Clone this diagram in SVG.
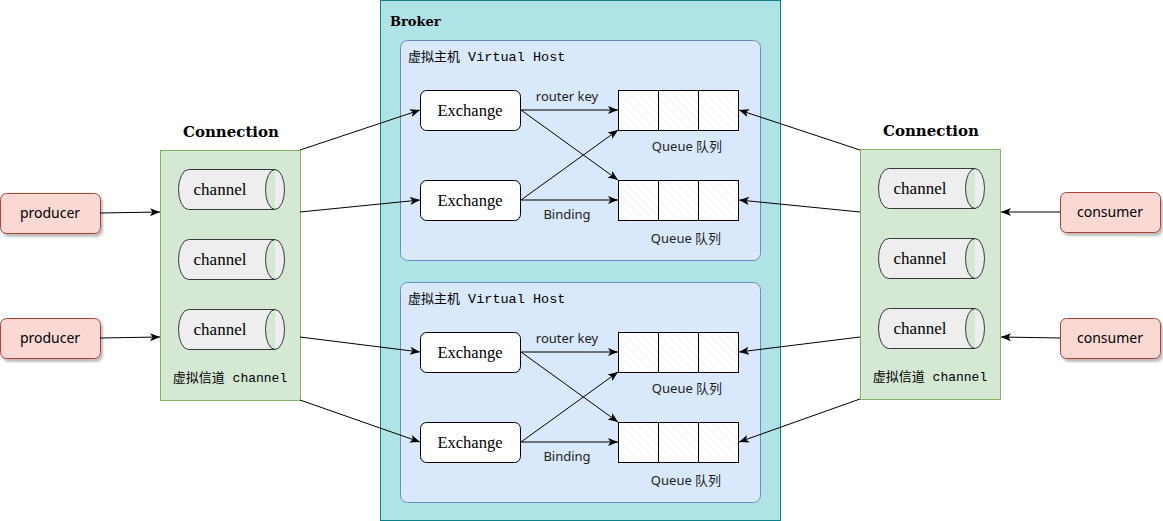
<svg xmlns="http://www.w3.org/2000/svg" width="1163" height="521" viewBox="0 0 1163 521">
<style>
.broker{fill:#b0e3e6;stroke:#0e8088;stroke-width:1}
.vh{fill:#dae8fc;stroke:#6c8ebf;stroke-width:1}
.conn{fill:#d5e8d4;stroke:#82b366;stroke-width:1}
.ex{fill:#ffffff;stroke:#000;stroke-width:1}
.cell{fill:url(#hatch);stroke:#000;stroke-width:1}
.cyl{fill:#eeeeee;stroke:#36393d;stroke-width:1}
.pc{fill:#fad9d5;stroke:#ae4132;stroke-width:1}
.edge{fill:none;stroke:#000;stroke-width:1;marker-end:url(#arr)}
.serif{font-family:"Liberation Serif","DejaVu Serif",serif;fill:#000}
.title{font-family:"DejaVu Serif","Liberation Serif",serif;font-weight:bold;font-size:13px;fill:#000}
.hand{font-family:"Noto Sans","Noto Sans CJK SC",sans-serif;font-size:13px;fill:#222}
.mono{font-family:"Liberation Mono","Noto Sans CJK SC",monospace;font-size:13.5px;fill:#000}
.cjk{font-family:"Noto Sans CJK SC",sans-serif;font-size:13px;fill:#000}
.pt{font-family:"Noto Sans","DejaVu Sans",sans-serif;font-size:14px;fill:#000}
</style>
<defs>
<pattern id="hatch" patternUnits="userSpaceOnUse" width="6" height="6" patternTransform="rotate(-45)">
<rect width="6" height="6" fill="#ffffff"/>
<line x1="0" y1="0" x2="0" y2="6" stroke="#e8e8e8" stroke-width="1"/>
</pattern>
<marker id="arr" viewBox="0 0 10 10" refX="10" refY="5" markerWidth="10" markerHeight="10" markerUnits="userSpaceOnUse" orient="auto">
<path d="M0,1 L10,5 L0,9 L2.5,5 Z" fill="#000"/>
</marker>
<filter id="sh" x="-10%" y="-10%" width="130%" height="140%">
<feDropShadow dx="2" dy="3" stdDeviation="1" flood-color="#000" flood-opacity="0.25"/>
</filter>
</defs>

<g id="broker">
<rect class="broker" x="380.5" y="0.5" width="400" height="520"/>
<text class="title" x="390" y="26">Broker</text>
</g>

<g id="vhost1">
<rect class="vh" x="400.5" y="40.5" width="360" height="220" rx="7"/>
<text x="408" y="61"><tspan class="cjk">虚拟主机</tspan><tspan class="mono"> Virtual Host</tspan></text>
</g>
<g id="vhost2">
<rect class="vh" x="400.5" y="282.5" width="360" height="220" rx="7"/>
<text x="408" y="303"><tspan class="cjk">虚拟主机</tspan><tspan class="mono"> Virtual Host</tspan></text>
</g>

<g id="conn-left">
<rect class="conn" x="160.5" y="150.5" width="140" height="250"/>
<text class="title" x="231" y="137" text-anchor="middle" style="font-size:15px">Connection</text>
<text x="230" y="382" text-anchor="middle"><tspan class="cjk">虚拟信道</tspan><tspan class="mono" style="font-size:13px"> channel</tspan></text>
</g>
<g id="conn-right">
<rect class="conn" x="860.5" y="149.5" width="140" height="250"/>
<text class="title" x="931" y="136" text-anchor="middle" style="font-size:15px">Connection</text>
<text x="930" y="381" text-anchor="middle"><tspan class="cjk">虚拟信道</tspan><tspan class="mono" style="font-size:13px"> channel</tspan></text>
</g>

<g id="ch-l1"><path class="cyl" d="M188.5 169.5 H275 A9.5 20 0 0 1 275 209.5 H188.5 A10 20 0 0 1 188.5 169.5 Z M275 169.5 A9.5 20 0 0 0 275 209.5"/><text class="serif" x="220" y="195" text-anchor="middle" font-size="17">channel</text></g>
<g id="ch-l2"><path class="cyl" d="M188.5 239.5 H275 A9.5 20 0 0 1 275 279.5 H188.5 A10 20 0 0 1 188.5 239.5 Z M275 239.5 A9.5 20 0 0 0 275 279.5"/><text class="serif" x="220" y="265" text-anchor="middle" font-size="17">channel</text></g>
<g id="ch-l3"><path class="cyl" d="M188.5 309.5 H275 A9.5 20 0 0 1 275 349.5 H188.5 A10 20 0 0 1 188.5 309.5 Z M275 309.5 A9.5 20 0 0 0 275 349.5"/><text class="serif" x="220" y="335" text-anchor="middle" font-size="17">channel</text></g>

<g id="ch-r1"><path class="cyl" d="M888.5 168.5 H975 A9.5 20 0 0 1 975 208.5 H888.5 A10 20 0 0 1 888.5 168.5 Z M975 168.5 A9.5 20 0 0 0 975 208.5"/><text class="serif" x="920" y="194" text-anchor="middle" font-size="17">channel</text></g>
<g id="ch-r2"><path class="cyl" d="M888.5 238.5 H975 A9.5 20 0 0 1 975 278.5 H888.5 A10 20 0 0 1 888.5 238.5 Z M975 238.5 A9.5 20 0 0 0 975 278.5"/><text class="serif" x="920" y="264" text-anchor="middle" font-size="17">channel</text></g>
<g id="ch-r3"><path class="cyl" d="M888.5 308.5 H975 A9.5 20 0 0 1 975 348.5 H888.5 A10 20 0 0 1 888.5 308.5 Z M975 308.5 A9.5 20 0 0 0 975 348.5"/><text class="serif" x="920" y="334" text-anchor="middle" font-size="17">channel</text></g>

<g id="producer1"><rect class="pc" x="0.5" y="193.5" width="100" height="40" rx="6" filter="url(#sh)"/><text class="pt" x="50" y="218" text-anchor="middle">producer</text></g>
<g id="producer2"><rect class="pc" x="0.5" y="318.5" width="100" height="40" rx="6" filter="url(#sh)"/><text class="pt" x="50" y="343" text-anchor="middle">producer</text></g>
<g id="consumer1"><rect class="pc" x="1060.5" y="192.5" width="100" height="40" rx="6" filter="url(#sh)"/><text class="pt" x="1110" y="217" text-anchor="middle">consumer</text></g>
<g id="consumer2"><rect class="pc" x="1060.5" y="318.5" width="100" height="40" rx="6" filter="url(#sh)"/><text class="pt" x="1110" y="343" text-anchor="middle">consumer</text></g>

<g id="ex1"><rect class="ex" x="420.5" y="90.5" width="100" height="40" rx="6"/><text class="serif" x="470" y="116" text-anchor="middle" font-size="16.5">Exchange</text></g>
<g id="ex2"><rect class="ex" x="420.5" y="180.5" width="100" height="40" rx="6"/><text class="serif" x="470" y="206" text-anchor="middle" font-size="16.5">Exchange</text></g>
<g id="ex3"><rect class="ex" x="420.5" y="332.5" width="100" height="40" rx="6"/><text class="serif" x="470" y="358" text-anchor="middle" font-size="16.5">Exchange</text></g>
<g id="ex4"><rect class="ex" x="420.5" y="422.5" width="100" height="40" rx="6"/><text class="serif" x="470" y="448" text-anchor="middle" font-size="16.5">Exchange</text></g>

<g id="q1"><rect class="cell" x="618.5" y="90.5" width="40" height="40"/><rect class="cell" x="658.5" y="90.5" width="40" height="40"/><rect class="cell" x="698.5" y="90.5" width="40" height="40"/><text class="hand" x="687" y="151" text-anchor="middle">Queue 队列</text></g>
<g id="q2"><rect class="cell" x="618.5" y="180.5" width="40" height="40"/><rect class="cell" x="658.5" y="180.5" width="40" height="40"/><rect class="cell" x="698.5" y="180.5" width="40" height="40"/><text class="hand" x="686" y="243" text-anchor="middle">Queue 队列</text></g>
<g id="q3"><rect class="cell" x="618.5" y="332.5" width="40" height="40"/><rect class="cell" x="658.5" y="332.5" width="40" height="40"/><rect class="cell" x="698.5" y="332.5" width="40" height="40"/><text class="hand" x="687" y="393" text-anchor="middle">Queue 队列</text></g>
<g id="q4"><rect class="cell" x="618.5" y="422.5" width="40" height="40"/><rect class="cell" x="658.5" y="422.5" width="40" height="40"/><rect class="cell" x="698.5" y="422.5" width="40" height="40"/><text class="hand" x="686" y="485" text-anchor="middle">Queue 队列</text></g>

<g id="connectors">
<path class="edge" d="M100 213 L160 212"/>
<path class="edge" d="M100 338 L160 337"/>
<path class="edge" d="M1060 212 L1001 212"/>
<path class="edge" d="M1060 338 L1001 337"/>
<path class="edge" d="M300 150 L420 110"/>
<path class="edge" d="M300 212 L420 200"/>
<path class="edge" d="M300 337 L420 352"/>
<path class="edge" d="M300 400 L420 442"/>
<path class="edge" d="M860 150 L739 110"/>
<path class="edge" d="M860 212 L739 200"/>
<path class="edge" d="M860 337 L739 352"/>
<path class="edge" d="M860 399 L739 442"/>
<path class="edge" d="M521 110 L618 110"/>
<path class="edge" d="M521 110 L618 180"/>
<path class="edge" d="M521 200 L618 130"/>
<path class="edge" d="M521 200 L618 200"/>
<path class="edge" d="M521 352 L618 352"/>
<path class="edge" d="M521 352 L618 422"/>
<path class="edge" d="M521 442 L618 372"/>
<path class="edge" d="M521 442 L618 442"/>
<text class="hand" x="567" y="101" text-anchor="middle">router key</text>
<text class="hand" x="567" y="219" text-anchor="middle">Binding</text>
<text class="hand" x="567" y="343" text-anchor="middle">router key</text>
<text class="hand" x="567" y="461" text-anchor="middle">Binding</text>
</g>
</svg>
